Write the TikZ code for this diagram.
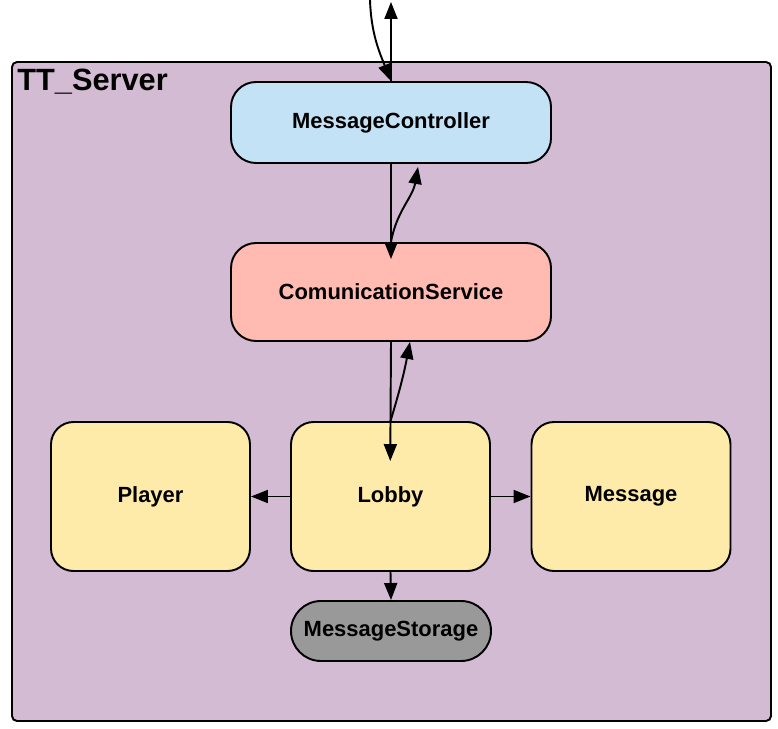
\documentclass[tikz,border=0pt]{standalone}
\usepackage{fontspec}
\setmainfont{Liberation Sans}
\usepackage{xcolor}
\usetikzlibrary{arrows.meta,positioning,calc}
\definecolor{srvpurple}{HTML}{D3BBD3}
\definecolor{ctrlblue}{HTML}{C3E2F5}
\definecolor{commred}{HTML}{FFBBB1}
\definecolor{lobbyyellow}{HTML}{FFEBA9}
\definecolor{storegray}{HTML}{999999}

\begin{document}
\begin{tikzpicture}[
    container/.style={draw, line width=1.1pt, rounded corners=0.1cm, fill=srvpurple, minimum width=15.18cm, minimum height=13.18cm},
    svc/.style={draw, line width=1.1pt, rounded corners=0.5cm, minimum width=6.4cm, align=center, font=\bfseries\fontsize{12.5}{15}\selectfont},
    part/.style={draw, line width=1.1pt, rounded corners=0.45cm, fill=lobbyyellow, minimum width=3.98cm, minimum height=2.98cm, align=center, font=\bfseries\fontsize{12.5}{15}\selectfont},
    arr/.style={-{Triangle[length=3.4mm, width=2.6mm]}, line width=1.1pt},
]
    \useasboundingbox (0,0) rectangle (15.56,-14.58);

    % Server frame
    \node[container] (server) at (7.83,-7.83) {};
    \node[anchor=west, font=\bfseries\fontsize{17.5}{20}\selectfont, inner sep=0pt] (title) at (0.34,-1.64) {TT\_Server};

    % Service layer
    \node[svc, fill=ctrlblue, minimum height=1.62cm] (ctrl) at (7.82,-2.45) {MessageController};
    \node[svc, fill=commred, minimum height=1.96cm] (comm) at (7.82,-5.84) {ComunicationService};

    % Model layer
    \node[part] (lobby) at (7.81,-9.93) {Lobby};
    \node[part] (player) at (3.01,-9.93) {Player};
    \node[part] (msg) at (12.62,-9.93) {Message};
    \node[draw, line width=1.1pt, rounded corners=0.6cm, fill=storegray, minimum width=4cm, minimum height=1.2cm, font=\bfseries\fontsize{12.5}{15}\selectfont] (store) at (7.82,-12.62) {MessageStorage};

    % Outside ends
    \coordinate (outtop) at (7.82,-0.04);
    \coordinate (intop) at (7.4,0);

    % Arrows
    \draw[arr] (ctrl.north) -- (outtop);
    \draw[arr] (intop) to[out=-88, in=112] (ctrl.north);
    \draw[arr, shorten >=-0.34cm] (ctrl.south) -- (comm.north);
    \draw[arr] (comm.north) to[out=80, in=-100] ($(ctrl.south)+(0.54,-0.06)$);
    \draw[arr, shorten >=-0.8cm] (comm.south) -- (lobby.north);
    \draw[arr] (lobby.north) to[bend right=3] ($(comm.south)+(0.38,0)$);
    \draw[arr] (lobby.west) -- (player.east);
    \draw[arr] (lobby.east) -- (msg.west);
    \draw[arr] (lobby.south) -- (store.north);
\end{tikzpicture}
\end{document}
